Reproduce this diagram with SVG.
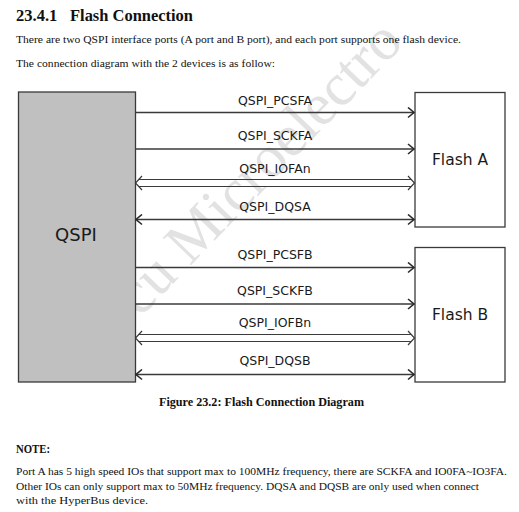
<svg xmlns="http://www.w3.org/2000/svg" width="519" height="512" viewBox="0 0 519 512">
<style>
.bg{fill:#ffffff}
.wm{font-family:"Liberation Serif",serif;font-size:60px;fill:#e2e2e2}
.h{font-family:"Liberation Serif",serif;font-weight:bold;font-size:16.5px;fill:#111}
.body{font-family:"Liberation Serif",serif;font-size:11.3px;fill:#111}
.bold{font-family:"Liberation Serif",serif;font-weight:bold;font-size:11.8px;fill:#111}
.box{stroke:#3a3a3a;stroke-width:1.3}
.lbl{font-family:"DejaVu Sans",sans-serif;font-size:12.5px;fill:#1a1a1a;text-anchor:middle}
.big{font-family:"DejaVu Sans",sans-serif;fill:#1a1a1a;text-anchor:middle}
.wire{stroke:#3a3a3a;stroke-width:1.3;fill:none}
.dbl{stroke:#3a3a3a;stroke-width:1.2;fill:none}
</style>
<defs>
<marker id="chev" markerUnits="userSpaceOnUse" viewBox="0 0 9 12" markerWidth="9" markerHeight="12" refX="7.5" refY="6" orient="auto-start-reverse">
<path d="M1.5,1 L7.5,6 L1.5,11" fill="none" stroke="#2a2a2a" stroke-width="1.6"/>
</marker>
</defs>
<rect class="bg" x="0" y="0" width="519" height="512"/>
<text class="wm" x="140" y="318" transform="rotate(-46 140 318)">cu Microelectro</text>

<text class="h" x="16" y="21">23.4.1<tspan x="70" textLength="123" lengthAdjust="spacingAndGlyphs">Flash Connection</tspan></text>
<text class="body" x="16" y="43" textLength="445" lengthAdjust="spacingAndGlyphs">There are two QSPI interface ports (A port and B port), and each port supports one flash device.</text>
<text class="body" x="16" y="67" textLength="259" lengthAdjust="spacingAndGlyphs">The connection diagram with the 2 devices is as follow:</text>

<g id="qspi">
<rect class="box" x="18.5" y="92" width="117" height="290" fill="#c0c0c0"/>
<text class="big" x="76" y="241" font-size="18">QSPI</text>
</g>
<g id="flashA">
<rect class="box" x="415" y="92.5" width="90" height="134.5" fill="#ffffff"/>
<text class="big" x="460" y="165" font-size="15.5">Flash A</text>
</g>
<g id="flashB">
<rect class="box" x="415" y="247.5" width="90" height="134.5" fill="#ffffff"/>
<text class="big" x="460" y="320" font-size="15.5">Flash B</text>
</g>

<g id="connectors">
<line class="wire" x1="136" y1="112.5" x2="414" y2="112.5" marker-end="url(#chev)"/>
<line class="wire" x1="136" y1="149" x2="414" y2="149" marker-end="url(#chev)"/>
<path class="dbl" d="M138.5,179.5 H411.5 M138.5,186.5 H411.5 M142,176 L135.5,183 L142,190 M408,176 L414.5,183 L408,190"/>
<line class="wire" x1="136" y1="219.5" x2="414" y2="219.5" marker-start="url(#chev)" marker-end="url(#chev)"/>

<line class="wire" x1="136" y1="267.5" x2="414" y2="267.5" marker-end="url(#chev)"/>
<line class="wire" x1="136" y1="304" x2="414" y2="304" marker-end="url(#chev)"/>
<path class="dbl" d="M138.5,334.5 H411.5 M138.5,341.5 H411.5 M142,331 L135.5,338 L142,345 M408,331 L414.5,338 L408,345"/>
<line class="wire" x1="136" y1="374.5" x2="414" y2="374.5" marker-start="url(#chev)" marker-end="url(#chev)"/>
</g>
<g id="labels">
<text class="lbl" x="275" y="105">QSPI_PCSFA</text>
<text class="lbl" x="275" y="140">QSPI_SCKFA</text>
<text class="lbl" x="275" y="173">QSPI_IOFAn</text>
<text class="lbl" x="275" y="211">QSPI_DQSA</text>
<text class="lbl" x="275" y="259">QSPI_PCSFB</text>
<text class="lbl" x="275" y="295">QSPI_SCKFB</text>
<text class="lbl" x="275" y="327">QSPI_IOFBn</text>
<text class="lbl" x="275" y="365">QSPI_DQSB</text>
</g>

<text class="bold" x="159" y="406" textLength="205" lengthAdjust="spacingAndGlyphs">Figure 23.2:  Flash Connection Diagram</text>
<text class="bold" x="16" y="453" textLength="34" lengthAdjust="spacingAndGlyphs">NOTE:</text>
<text class="body" x="16" y="475" textLength="491" lengthAdjust="spacingAndGlyphs">Port A has 5 high speed IOs that support max to 100MHz frequency, there are SCKFA and IO0FA~IO3FA.</text>
<text class="body" x="16" y="490" textLength="463" lengthAdjust="spacingAndGlyphs">Other IOs can only support max to 50MHz frequency. DQSA and DQSB are only used when connect</text>
<text class="body" x="16" y="504" textLength="132" lengthAdjust="spacingAndGlyphs">with the HyperBus device.</text>
</svg>
